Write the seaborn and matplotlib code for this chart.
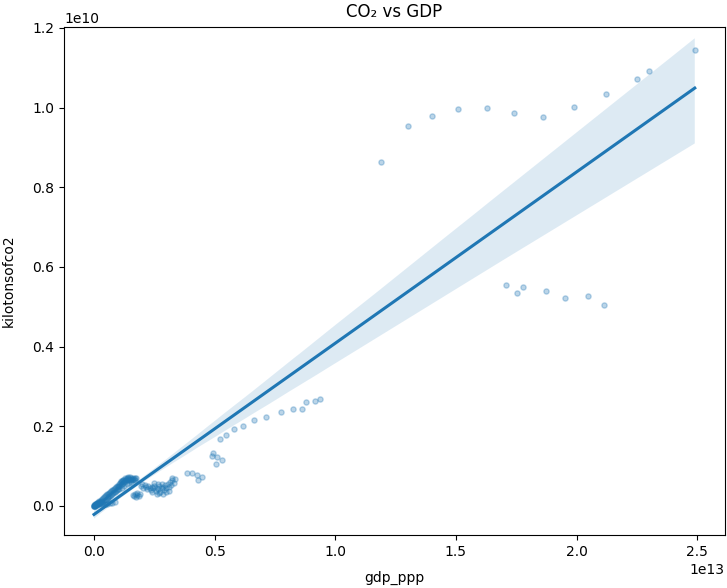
import numpy as np
import pandas as pd
import matplotlib
matplotlib.use("Agg")
import matplotlib.pyplot as plt
import seaborn as sns

# gdp_ppp in units of 1e13, kilotonsofco2 in units of 1e10

# tiny economies right at the origin
gdp_tiny = [0.000, 0.001, 0.001, 0.002, 0.002, 0.003, 0.003, 0.004, 0.005, 0.005, 0.006, 0.007, 0.008, 0.009,
            0.010, 0.011, 0.012, 0.013, 0.014, 0.015, 0.016, 0.018, 0.019, 0.020, 0.022, 0.023, 0.025, 0.026,
            0.028, 0.030]
co2_tiny = [0.000, 0.000, 0.001, 0.001, 0.002, 0.001, 0.003, 0.002, 0.001, 0.004, 0.003, 0.005, 0.002, 0.006,
            0.004, 0.007, 0.003, 0.008, 0.005, 0.009, 0.006, 0.004, 0.010, 0.007, 0.012, 0.005, 0.011, 0.008,
            0.013, 0.010]

# small economies
gdp_small = [0.030, 0.032, 0.034, 0.036, 0.038, 0.040, 0.042, 0.044, 0.046, 0.048, 0.050, 0.052, 0.054, 0.056,
             0.058, 0.060, 0.062, 0.064, 0.066, 0.068, 0.070, 0.072, 0.074, 0.076, 0.078, 0.080, 0.082, 0.084,
             0.086, 0.088, 0.090, 0.092, 0.094, 0.096, 0.098, 0.100,
             0.035, 0.045, 0.055, 0.065, 0.075, 0.085]
co2_small = [0.016, 0.008, 0.018, 0.010, 0.020, 0.012, 0.022, 0.014, 0.024, 0.016, 0.027, 0.018, 0.029, 0.020,
             0.031, 0.022, 0.033, 0.024, 0.035, 0.026, 0.037, 0.028, 0.039, 0.030, 0.041, 0.032, 0.043, 0.034,
             0.045, 0.036, 0.047, 0.038, 0.049, 0.040, 0.051, 0.042,
             0.004, 0.006, 0.005, 0.008, 0.007, 0.010]

# upper end of the main cluster
gdp_upper = [0.100, 0.102, 0.105, 0.108, 0.110, 0.112, 0.115, 0.118, 0.120, 0.122, 0.125, 0.128, 0.130, 0.132,
             0.135, 0.138, 0.140, 0.142, 0.145, 0.148, 0.150, 0.152, 0.155, 0.158, 0.160, 0.163, 0.165, 0.168,
             0.170, 0.175, 0.105, 0.115, 0.125, 0.135, 0.145, 0.155, 0.110, 0.120, 0.130, 0.140]
co2_upper = [0.048, 0.055, 0.050, 0.058, 0.052, 0.060, 0.055, 0.062, 0.058, 0.064, 0.060, 0.066, 0.062, 0.068,
             0.064, 0.070, 0.066, 0.071, 0.068, 0.072, 0.066, 0.070, 0.064, 0.068, 0.066, 0.070, 0.068, 0.071,
             0.066, 0.069, 0.042, 0.046, 0.050, 0.054, 0.057, 0.060, 0.063, 0.066, 0.069, 0.072]

# little group just right of the main cluster
gdp_grp = [0.160, 0.165, 0.170, 0.175, 0.180, 0.185, 0.190, 0.178]
co2_grp = [0.028, 0.024, 0.030, 0.022, 0.027, 0.024, 0.029, 0.032]

# medium economies
gdp_mid = [0.195, 0.200, 0.205, 0.210, 0.215, 0.220, 0.225, 0.230, 0.235, 0.240, 0.245, 0.250, 0.255, 0.260,
           0.265, 0.270, 0.275, 0.280, 0.285, 0.290, 0.295, 0.300, 0.305, 0.310, 0.315, 0.320, 0.325, 0.330,
           0.335, 0.322, 0.260, 0.270, 0.285, 0.300, 0.240, 0.310, 0.280, 0.265, 0.250]
co2_mid = [0.050, 0.055, 0.045, 0.052, 0.048, 0.042, 0.050, 0.046, 0.040, 0.048, 0.044, 0.050, 0.038, 0.046,
           0.042, 0.050, 0.036, 0.044, 0.048, 0.040, 0.052, 0.045, 0.055, 0.048, 0.060, 0.052, 0.065, 0.058,
           0.068, 0.070, 0.030, 0.033, 0.030, 0.034, 0.035, 0.038, 0.056, 0.055, 0.058]

gdp_de = [0.384, 0.405, 0.426, 0.446, 0.433]
co2_de = [0.082, 0.084, 0.078, 0.074, 0.065]

gdp_jp = [0.495, 0.508, 0.529, 0.506, 0.488]
co2_jp = [0.134, 0.122, 0.116, 0.105, 0.126]

gdp_in = [0.524, 0.547, 0.580, 0.618, 0.663, 0.714, 0.777, 0.826, 0.864, 0.880, 0.915, 0.938]
co2_in = [0.167, 0.178, 0.193, 0.201, 0.215, 0.223, 0.235, 0.243, 0.243, 0.260, 0.264, 0.269]

gdp_us = [1.708, 1.752, 1.780, 1.873, 1.951, 2.049, 2.112]
co2_us = [0.554, 0.534, 0.550, 0.540, 0.521, 0.527, 0.505]

gdp_cn = [1.19, 1.30, 1.40, 1.51, 1.63, 1.74, 1.86, 1.99, 2.12, 2.25, 2.30, 2.49]
co2_cn = [0.864, 0.953, 0.978, 0.996, 0.998, 0.987, 0.976, 1.001, 1.034, 1.071, 1.091, 1.144]

gdp_all = gdp_tiny + gdp_small + gdp_upper + gdp_grp + gdp_mid + gdp_de + gdp_jp + gdp_in + gdp_us + gdp_cn
co2_all = co2_tiny + co2_small + co2_upper + co2_grp + co2_mid + co2_de + co2_jp + co2_in + co2_us + co2_cn

df = pd.DataFrame({
    "gdp_ppp": np.array(gdp_all) * 1e13,
    "kilotonsofco2": np.array(co2_all) * 1e10,
})

fig, ax = plt.subplots(figsize=(7.27, 5.88), dpi=100)
sns.regplot(data=df, x="gdp_ppp", y="kilotonsofco2", ax=ax, seed=0,
            scatter_kws={"alpha": 0.3, "s": 14}, line_kws={"linewidth": 2.2})
ax.set_ylim(-0.073e10, 1.202e10)
ax.set_title("CO\u2082 vs GDP", pad=7.5)
ax.set_xlabel("gdp_ppp", labelpad=9)
ax.set_ylabel("kilotonsofco2", labelpad=12)
plt.subplots_adjust(left=0.088, right=0.997, top=0.954, bottom=0.090)
plt.savefig("out.png", dpi=100)
